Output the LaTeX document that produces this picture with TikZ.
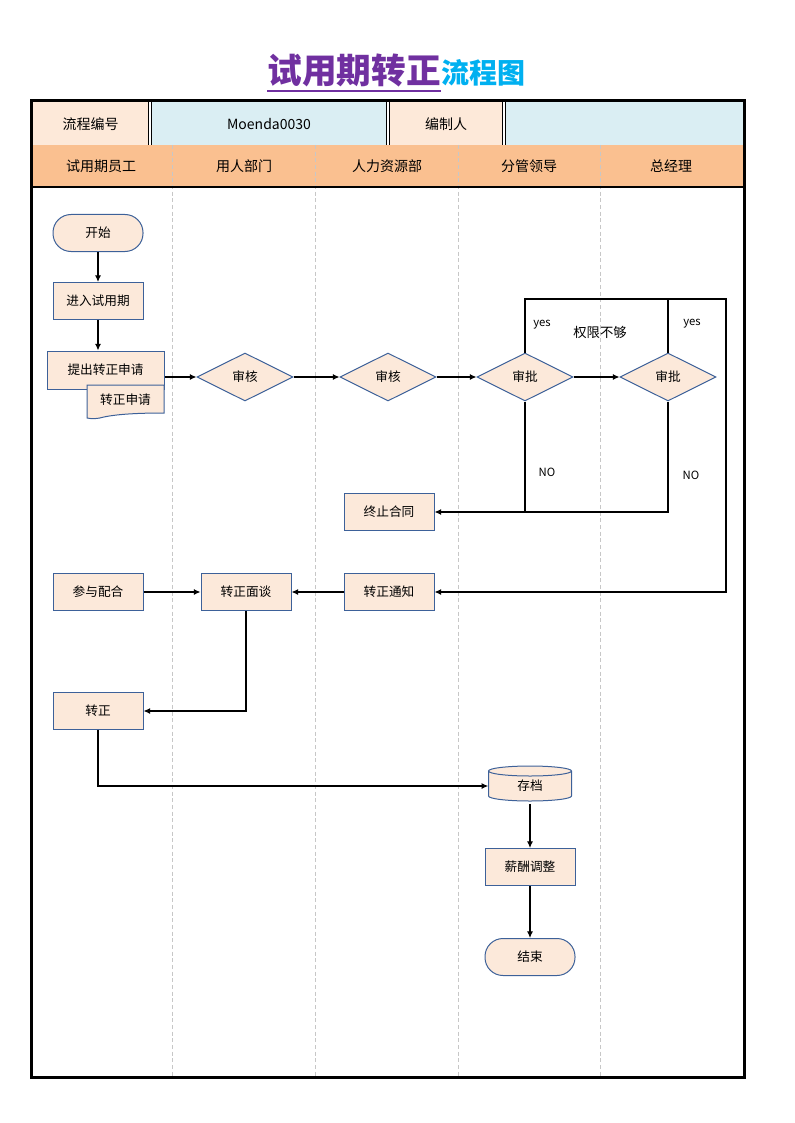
\documentclass[tikz,border=0pt]{standalone}
\usepackage{fontspec}
\setmainfont{Noto Sans CJK SC}
\usepackage{xcolor}
\usetikzlibrary{shapes.geometric,arrows.meta}
\definecolor{nodefill}{HTML}{FCE9DA}
\definecolor{nodeline}{HTML}{3D6199}
\definecolor{cellpeach}{HTML}{FDE9D9}
\definecolor{cellblue}{HTML}{DAEEF3}
\definecolor{laneorange}{HTML}{FAC090}
\definecolor{titlepurple}{HTML}{7030A0}
\definecolor{titlecyan}{HTML}{00B0F0}
\tikzset{proc/.style={draw=nodeline,fill=nodefill,line width=0.75pt,inner sep=0pt,minimum width=67.5pt,minimum height=27.75pt,font=\fontsize{9.5}{11}\selectfont}}
\tikzset{term/.style={proc,rounded corners=13.5pt}}
\tikzset{dec/.style={diamond,aspect=2,draw=nodeline,fill=nodefill,line width=0.75pt,inner sep=0pt,minimum width=72pt,minimum height=36pt,font=\fontsize{9.5}{11}\selectfont}}
\tikzset{flow/.style={line width=0.8pt,-{Latex[length=5pt,width=4.5pt]}}}
\tikzset{link/.style={line width=0.8pt}}
\tikzset{lane/.style={draw=black!22,dashed,dash pattern=on 3pt off 2pt,line width=0.6pt}}
\tikzset{head/.style={font=\fontsize{10.5}{12}\selectfont}}
\tikzset{tag/.style={font=\fontsize{8.5}{10}\selectfont}}

\begin{document}
\begin{tikzpicture}[x=0.75pt,y=-0.75pt]
\useasboundingbox (0,0) rectangle (794,1123);
\node[anchor=base east,inner sep=0pt,font=\fontsize{26}{30}\bfseries\selectfont,text=titlepurple] (tmain) at (441,84) {试用期转正};
\node[anchor=base west,inner sep=0pt,font=\fontsize{21}{24}\bfseries\selectfont,text=titlecyan] (tsub) at (tmain.base east) {流程图};
\draw[titlepurple,line width=1.6pt] ([yshift=-5.5pt]tmain.base west) -- ([yshift=-5.5pt]tmain.base east);
\fill[cellpeach] (31,101) rectangle (150,145);
\fill[cellblue] (150,101) rectangle (388,145);
\fill[cellpeach] (388,101) rectangle (504,145);
\fill[cellblue] (504,101) rectangle (744,145);
\fill[laneorange] (31,145) rectangle (744,187);
\foreach \x in {150,388,504}
  \draw[double,double distance=1.5pt,line width=0.6pt] (\x,101) -- (\x,145);
\foreach \x in {172,315,458,600}
  \draw[lane] (\x,145) -- (\x,1077);
\draw[line width=1.2pt] (31,187) -- (744,187);
\draw[line width=2.25pt] (31,101) rectangle (744,1077);
\node[head] (hnum) at (90.5,124) {流程编号};
\node[head] (hcode) at (269,124) {Moenda0030};
\node[head] (hauthor) at (446,124) {编制人};
\node[head] (l1) at (101,166) {试用期员工};
\node[head] (l2) at (244,166) {用人部门};
\node[head] (l3) at (387,166) {人力资源部};
\node[head] (l4) at (529,166) {分管领导};
\node[head] (l5) at (671,166) {总经理};

\node[term] (start) at (98,233) {开始};
\node[proc] (enter) at (98,301) {进入试用期};
\node[proc,minimum width=87.75pt,minimum height=28.5pt] (apply) at (105.5,370) {提出转正申请};
\draw[draw=nodeline,fill=nodefill,line width=0.75pt] (87,385) -- (164,385) -- (164,413) .. controls (140,413) and (118,414) .. (104,417) .. controls (97,419) and (92,419) .. (87,418) -- cycle;
\node[font=\fontsize{9.5}{11}\selectfont] (form) at (125.5,400) {转正申请};
\node[dec] (rev1) at (245,377) {审核};
\node[dec] (rev2) at (388,377) {审核};
\node[dec] (app1) at (525,377) {审批};
\node[dec] (app2) at (668,377) {审批};
\node[proc] (stop) at (389,512) {终止合同};
\node[proc] (join) at (98,592) {参与配合};
\node[proc] (talk) at (246,592) {转正面谈};
\node[proc] (notice) at (389,592) {转正通知};
\node[proc] (regular) at (98,711) {转正};
\draw[draw=nodeline,fill=nodefill,line width=0.75pt] (488.5,771) -- (488.5,796) arc[start angle=180,end angle=360,x radius=31.125pt,y radius=3.75pt] -- (571.5,771) arc[start angle=0,end angle=180,x radius=31.125pt,y radius=3.75pt] -- cycle;
\draw[draw=nodeline,line width=0.75pt] (488.5,771) arc[start angle=180,end angle=360,x radius=31.125pt,y radius=3.75pt];
\node[minimum width=62.25pt,minimum height=26.25pt,inner sep=0pt,font=\fontsize{9.5}{11}\selectfont] (archive) at (530,786) {存档};
\node[proc] (salary) at (530,867) {薪酬调整};
\node[term] (end) at (530,957) {结束};
\coordinate (corner) at (726,299);

\path[flow] (start) edge (enter);
\path[flow] (enter.south) edge (enter.south |- apply.north);
\path[flow] (apply.east |- rev1) edge (rev1);
\path[flow] (rev1) edge (rev2);
\path[flow] (rev2) edge (app1);
\path[flow] (app1) edge (app2);
\draw[link] (app2.south) |- (app1.south |- stop.east);
\draw[flow] (app1.south) |- (stop.east);
\draw[link] (app2.north) -- (app2.north |- corner);
\draw[flow] (app1.north) |- (corner) |- (notice.east);
\path[flow] (join) edge (talk);
\path[flow] (notice) edge (talk);
\draw[flow] (talk.south) |- (regular.east);
\draw[flow] (regular.south) |- (archive.west);
\path[flow] (archive) edge (salary);
\path[flow] (salary) edge (end);

\node[tag] (yes1) at (542,325) {yes};
\node[tag] (yes2) at (692,324) {yes};
\node[font=\fontsize{10}{12}\selectfont] (lack) at (600,332) {权限不够};
\node[tag] (no1) at (547,472) {NO};
\node[tag] (no2) at (691,475) {NO};
\end{tikzpicture}
\end{document}
